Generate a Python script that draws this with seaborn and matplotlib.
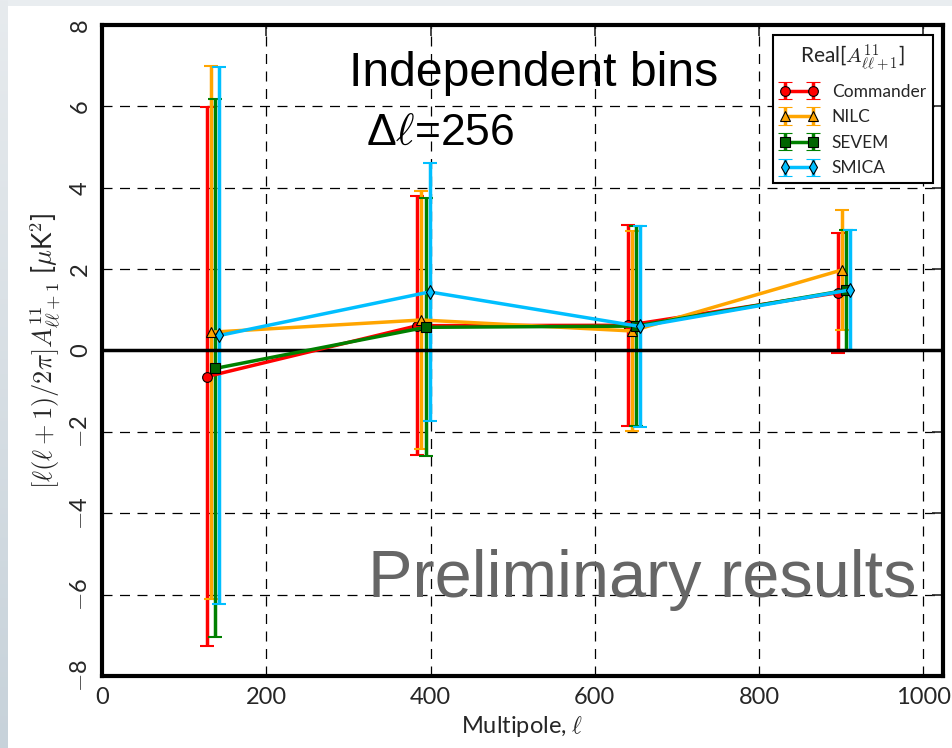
import numpy as np
import pandas as pd
import matplotlib
matplotlib.use("Agg")
import matplotlib.pyplot as plt
import seaborn as sns
from matplotlib.patches import Rectangle
from matplotlib.colors import LinearSegmentedColormap

# ---------------- data ----------------
bin_centers = [128, 384, 640, 896]
series_names = ["Commander", "NILC", "SEVEM", "SMICA"]
x_offsets = [0.0, 5.0, 10.0, 15.0]

commander_vals = [-0.64, 0.61, 0.62, 1.42]
nilc_vals = [0.45, 0.75, 0.48, 1.98]
sevem_vals = [-0.44, 0.57, 0.60, 1.48]
smica_vals = [0.37, 1.44, 0.59, 1.49]

commander_err = [6.62, 3.18, 2.47, 1.48]
nilc_err = [6.55, 3.17, 2.45, 1.48]
sevem_err = [6.61, 3.17, 2.45, 1.48]
smica_err = [6.60, 3.17, 2.46, 1.48]

x_ticks = [0, 200, 400, 600, 800, 1000]
y_ticks = [-8, -6, -4, -2, 0, 2, 4, 6, 8]

line_colors = ["#ff0000", "#ffa500", "#008000", "#00bfff"]
face_colors = ["#ff0000", "#ffa500", "#006400", "#00bfff"]
cap_colors = ["#ff8080", "#ffd080", "#70b070", "#80dfff"]
markers = ["o", "^", "s", "d"]

values = [commander_vals, nilc_vals, sevem_vals, smica_vals]
errors = [commander_err, nilc_err, sevem_err, smica_err]

rows = []
for name, off, vals, errs in zip(series_names, x_offsets, values, errors):
    for c, v, e in zip(bin_centers, vals, errs):
        rows.append({"series": name, "ell": c + off, "value": v, "err": e})
df = pd.DataFrame(rows)

# ---------------- figure ----------------
sns.set_style("white")
plt.rcParams["font.family"] = ["Lato", "DejaVu Sans"]
plt.rcParams["mathtext.fontset"] = "cm"

fig = plt.figure(figsize=(9.53, 7.48), dpi=100)
fig.patch.set_facecolor("white")

# slide-like border strips
bg = fig.add_axes([0, 0, 8 / 953, 1])
grad = np.linspace(0, 1, 256).reshape(-1, 1)
cmap = LinearSegmentedColormap.from_list("bg", ["#e7ebee", "#c7d2da"])
bg.imshow(grad, aspect="auto", cmap=cmap, extent=[0, 1, 0, 1], origin="upper")
bg.axis("off")
fig.patches.append(Rectangle((0, 1 - 6 / 748), 1, 6 / 748, transform=fig.transFigure,
                             facecolor="#e9edf0", edgecolor="none", zorder=-1))

ax = fig.add_axes([102 / 953, 1 - 676 / 748, (943 - 102) / 953, (676 - 25) / 748])

for i, name in enumerate(series_names):
    sub = df[df["series"] == name]
    eb = ax.errorbar(sub["ell"], sub["value"], yerr=sub["err"], fmt="none",
                     ecolor=line_colors[i], elinewidth=2.5, capsize=5, capthick=1.5,
                     zorder=2 + i * 0.1)
    for cl in eb[1]:
        cl.set_color(cap_colors[i])
    sns.lineplot(data=sub, x="ell", y="value", ax=ax, color=line_colors[i],
                 marker=markers[i], markersize=7, markerfacecolor=face_colors[i],
                 markeredgecolor="black", markeredgewidth=0.8, linewidth=2.5,
                 legend=False, zorder=4 + i * 0.1, sort=False)

ax.axhline(0, color="black", linewidth=2.5, zorder=3)

# legend proxies
handles = []
for i, name in enumerate(series_names):
    h = ax.errorbar([np.nan], [np.nan], yerr=[1.0], fmt="-" + markers[i],
                    color=line_colors[i], markerfacecolor=face_colors[i],
                    markeredgecolor="black", markeredgewidth=0.8, markersize=7,
                    linewidth=2.5, elinewidth=2.5, capsize=5, capthick=1.5,
                    label=name)
    for cl in h[1]:
        cl.set_color(cap_colors[i])
    handles.append(h)

leg = ax.legend(handles=handles, labels=series_names, loc="upper right",
                title="Real[$A^{11}_{\\ell\\ell+1}$]", fontsize=12.5, title_fontsize=15,
                frameon=True, fancybox=False, framealpha=1, edgecolor="black",
                borderaxespad=0.0, numpoints=2, handlelength=2.2, labelspacing=0.55,
                borderpad=0.4, bbox_to_anchor=(0.988, 0.984))
leg.get_frame().set_linewidth(1.5)

ax.set_xlim(0, 1024)
ax.set_ylim(-8, 8)
ax.set_xticks(x_ticks)
ax.set_yticks(y_ticks)
ax.set_xticklabels([str(t) for t in x_ticks])
ax.set_yticklabels([f"$-${abs(t)}" if t < 0 else str(t) for t in y_ticks])
ax.tick_params(axis="both", direction="in", length=8, width=1.2, labelsize=17,
               top=True, right=True, pad=8)
for lbl in ax.get_yticklabels():
    lbl.set_rotation(90)
    lbl.set_va("center")

ax.grid(True, color="black", linestyle=(0, (8, 6)), linewidth=0.9)
for s in ax.spines.values():
    s.set_linewidth(3)
    s.set_color("black")

ax.set_xlabel(r"Multipole, $\ell$", fontsize=17, labelpad=4)
ax.set_ylabel(r"$[\ell(\ell+1)/2\pi]A^{11}_{\ell\ell+1}$ [$\mu$K$^2$]", fontsize=19,
              labelpad=5)

ax.text(525, 6.5, "Independent bins", fontsize=34.7, ha="center", va="baseline",
        family=["Liberation Sans", "DejaVu Sans"], color="black", zorder=6)
ax.text(321, 5.05, "Δ$\\ell$=256", fontsize=32, ha="left", va="baseline",
        family=["Liberation Sans", "DejaVu Sans"], color="black", zorder=6)
ax.text(991, -6.06, "Preliminary results", fontsize=48, ha="right", va="baseline",
        family=["Liberation Sans", "DejaVu Sans"], color="#666666", zorder=6)

fig.savefig("out.png", dpi=100)
